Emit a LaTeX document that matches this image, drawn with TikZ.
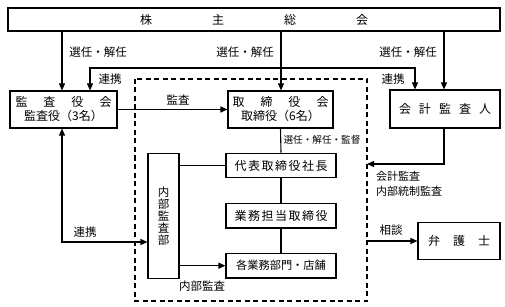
\documentclass[tikz,border=0pt]{standalone}
\usepackage{fontspec}
\setmainfont{Noto Sans CJK JP}
\usetikzlibrary{arrows.meta}
\newcommand{\vstack}[1]{\vbox{\baselineskip=12pt\lineskiplimit=-100pt\lineskip=0pt #1}}
\begin{document}
\begin{tikzpicture}[x=1pt,y=-1pt,
  box/.style={draw,line width=1.1pt,inner sep=0pt,font=\fontsize{12}{14}\selectfont,align=center},
  lab/.style={inner sep=0pt,font=\fontsize{11.5}{13}\selectfont},
  conn/.style={line width=1.1pt},
  arr/.style={conn,-{Triangle[length=7pt,width=6pt]}},
  darr/.style={conn,{Triangle[length=7pt,width=6pt]}-{Triangle[length=7pt,width=6pt]}}]
\useasboundingbox (0,0) rectangle (505,307);
% dashed frame
\draw[line width=1.1pt,dash pattern=on 5pt off 3.5pt] (135,79) rectangle (367,301);
% boxes
\node[box,minimum width=492pt,minimum height=23pt] (top) at (254,19.5)
  {株\hspace{60pt}主\hspace{60pt}総\hspace{60pt}会};
\node[box,minimum width=107pt,minimum height=37pt] (kansa) at (63.5,109.5)
  {監\hspace{16pt}査\hspace{16pt}役\hspace{16pt}会\\[0pt]監査役（3名）};
\node[box,minimum width=105pt,minimum height=37pt] (tori) at (280.5,109.5)
  {取\hspace{16pt}締\hspace{16pt}役\hspace{16pt}会\\[0pt]取締役（6名）};
\node[box,minimum width=110pt,minimum height=38pt] (kaikei) at (445,109)
  {会\hspace{8pt}計\hspace{8pt}監\hspace{8pt}査\hspace{8pt}人};
\node[box,minimum width=110pt,minimum height=24.5pt] (daihyo) at (281,165.5)
  {代\hspace{1.5pt}表\hspace{1.5pt}取\hspace{1.5pt}締\hspace{1.5pt}役\hspace{1.5pt}社\hspace{1.5pt}長};
\node[box,minimum width=110pt,minimum height=24.5pt] (gyomu) at (281,215.7)
  {業\hspace{1.5pt}務\hspace{1.5pt}担\hspace{1.5pt}当\hspace{1.5pt}取\hspace{1.5pt}締\hspace{1.5pt}役};
\node[box,minimum width=110pt,minimum height=24.5pt,font=\fontsize{11.2}{13}\selectfont] (kaku) at (281,265.7)
  {各業務部門・店舗};
\node[box,minimum width=31pt,minimum height=124.7pt,font=\fontsize{11.5}{12}\selectfont] (naibu) at (163.5,215.7)
  {\vstack{\hbox{内}\hbox{部}\hbox{監}\hbox{査}\hbox{部}}};
\node[box,minimum width=82pt,minimum height=36.6pt] (bengo) at (459,241)
  {弁\hspace{13pt}護\hspace{13pt}士};
% helper coordinates
\coordinate (xa) at (62,0);
\coordinate (xb) at (281,0);
\coordinate (xc) at (444,0);
\coordinate (r1) at (90,68);
\coordinate (r2) at (415,68);
\coordinate (l1) at (62,242);
\coordinate (k1) at (444,164);
\coordinate (k2) at (367,164);
\coordinate (s1) at (367,241);
% connectors
\draw[arr] (top.south -| xa) -- (kansa.north -| xa);
\draw[arr] (top.south -| xb) -- (tori.north -| xb);
\draw[arr] (top.south -| xc) -- (kaikei.north -| xc);
\draw[darr] (kansa.north -| r1) -- (r1) -- (r2) -- (kaikei.north -| r2);
\draw[arr] (kansa.east) -- (tori.west);
\draw[conn] (tori.south) -- (daihyo.north);
\draw[conn] (daihyo.south) -- (gyomu.north);
\draw[conn] (gyomu.south) -- (kaku.north);
\draw[conn] (naibu.east |- daihyo.west) -- (daihyo.west);
\draw[arr] (naibu.east |- kaku.west) -- (kaku.west);
\draw[darr] (kansa.south -| l1) -- (l1) -- (naibu.west |- l1);
\draw[arr] (kaikei.south -| k1) -- (k1) -- (k2);
\draw[arr] (s1) -- (bengo.west);
% labels
\node[lab] (t1) at (98,52) {選任・解任};
\node[lab] (t2) at (245,52) {選任・解任};
\node[lab] (t3) at (408,52) {選任・解任};
\node[lab] (t4) at (110,79) {連携};
\node[lab] (t5) at (393,79) {連携};
\node[lab] (t6) at (178,100) {監査};
\node[lab,font=\fontsize{9.6}{11}\selectfont] (t7) at (322,140) {選任・解任・監督};
\node[lab,anchor=west,align=left,font=\fontsize{11}{15}\selectfont] (t8) at (376,183.5) {会計監査\\内部統制監査};
\node[lab] (t9) at (391,230) {相談};
\node[lab] (t10) at (85,232) {連携};
\node[lab] (t11) at (202,286) {内部監査};
\end{tikzpicture}
\end{document}
